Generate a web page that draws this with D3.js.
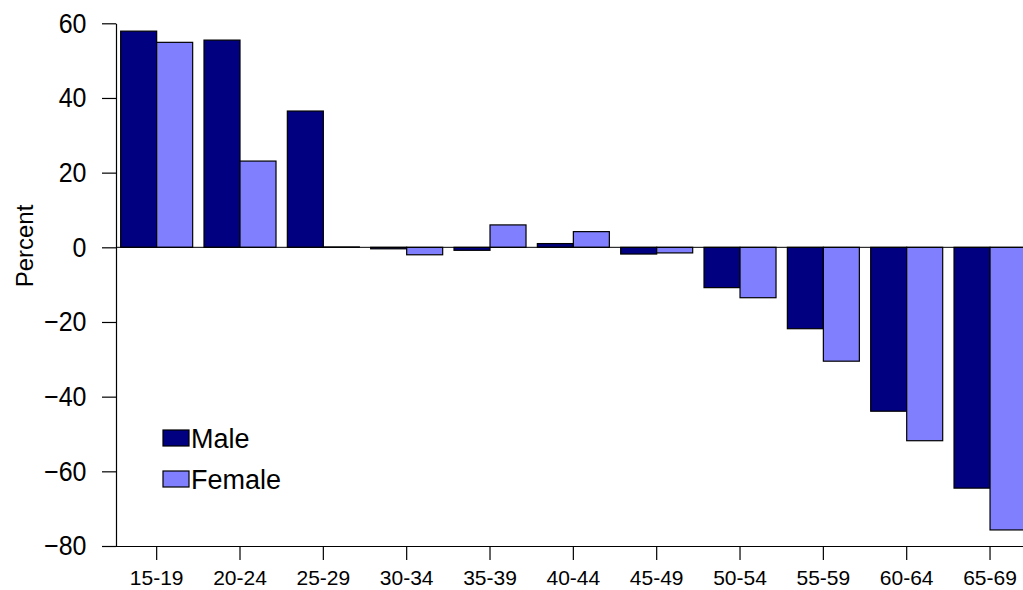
<!DOCTYPE html>
<html>
<head>
<meta charset="utf-8">
<script src="https://cdn.jsdelivr.net/npm/d3@7"></script>
<style>
  html, body { margin: 0; padding: 0; background: #fff; }
  svg { display: block; font-family: "Liberation Sans", Arial, sans-serif; }
</style>
</head>
<body>
<svg id="chart" width="1023" height="590"></svg>
<script>
const categories = ["15-19","20-24","25-29","30-34","35-39","40-44","45-49","50-54","55-59","60-64","65-69"];
const seriesNames = ["Male","Female"];
const maleValues = [57.9, 55.5, 36.5, -0.4, -0.8, 1.0, -1.8, -10.8, -21.8, -43.9, -64.5];
const femaleValues = [54.9, 23.1, 0.1, -2.0, 6.0, 4.2, -1.5, -13.5, -30.5, -51.8, -75.7];
const yTicks = [-80, -60, -40, -20, 0, 20, 40, 60];
const colors = ["#000080", "#8080FF"];

(function () {
const svg = d3.select("#chart");
const plotLeft = 116, plotTop = 23.3, plotBottom = 546;

const x = d3.scaleBand().domain(categories).range([115, 1031.7]).paddingInner(0.136).paddingOuter(0.068);
const xs = d3.scaleBand().domain(seriesNames).range([0, x.bandwidth()]);
const y = d3.scaleLinear().domain([-80, 60]).range([plotBottom, plotTop]);

const data = categories.map((c, i) => ({cat: c, vals: [
  {name: "Male", v: maleValues[i]}, {name: "Female", v: femaleValues[i]}]}));

// bars
const g = svg.append("g");
g.selectAll("g.grp").data(data).join("g")
  .attr("transform", d => `translate(${x(d.cat)},0)`)
  .selectAll("rect").data(d => d.vals).join("rect")
  .attr("x", d => xs(d.name))
  .attr("width", xs.bandwidth())
  .attr("y", d => y(Math.max(0, d.v)))
  .attr("height", d => Math.abs(y(d.v) - y(0)))
  .attr("fill", (d, i) => colors[i])
  .attr("stroke", "#000")
  .attr("stroke-width", 1.2);

// zero line
svg.append("line")
  .attr("x1", plotLeft).attr("x2", 1023)
  .attr("y1", y(0)).attr("y2", y(0))
  .attr("stroke", "#000").attr("stroke-width", 1);

// y axis
const yAxis = svg.append("g").attr("transform", `translate(${plotLeft},0)`)
  .call(d3.axisLeft(y).tickValues(yTicks).tickSize(14).tickSizeOuter(0).tickPadding(15.5).tickFormat(d3.format("d")));
yAxis.selectAll("text").attr("font-size", 25).attr("fill", "#000")
  .attr("font-family", "Liberation Sans, Arial, sans-serif")
  .attr("transform", "scale(1,1.12)");
yAxis.selectAll("line, path").attr("stroke", "#000").attr("stroke-width", 1.2);

// x axis
const xAxis = svg.append("g").attr("transform", `translate(0,${plotBottom})`)
  .call(d3.axisBottom(x).tickSize(14).tickSizeOuter(0).tickPadding(10));
xAxis.select("path").attr("d", `M${plotLeft},0.5H1023`);
xAxis.selectAll("text").attr("font-size", 21).attr("fill", "#000")
  .attr("font-family", "Liberation Sans, Arial, sans-serif");
xAxis.selectAll("line, path").attr("stroke", "#000").attr("stroke-width", 1.2);

// y title
svg.append("text")
  .attr("transform", `translate(33,246) rotate(-90)`)
  .attr("text-anchor", "middle")
  .attr("font-size", 24)
  .attr("fill", "#000")
  .text("Percent");

// legend
const leg = svg.append("g").attr("transform", "translate(163,430)");
seriesNames.forEach((n, i) => {
  const row = leg.append("g").attr("transform", `translate(0,${i * 41})`);
  row.append("rect").attr("width", 26).attr("height", 16)
    .attr("fill", colors[i]).attr("stroke", "#000").attr("stroke-width", 1.2);
  row.append("text").attr("x", 28).attr("y", 18)
    .attr("font-size", 27).attr("fill", "#000").text(n);
});
})();
</script>
</body>
</html>
